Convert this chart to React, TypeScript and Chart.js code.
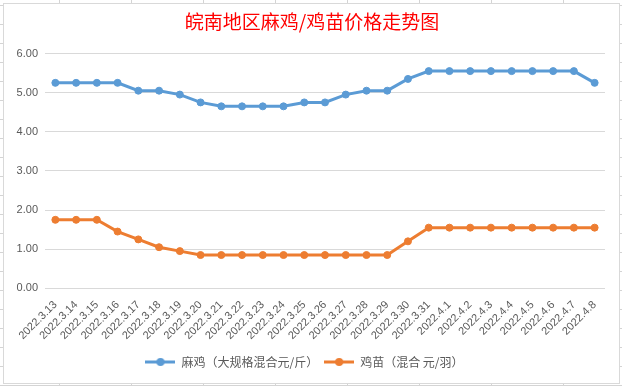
import React, { useEffect, useRef } from "react";
import { Chart, registerables } from "chart.js";

Chart.register(...registerables);

const categories = [
  "2022.3.13", "2022.3.14", "2022.3.15", "2022.3.16", "2022.3.17", "2022.3.18",
  "2022.3.19", "2022.3.20", "2022.3.21", "2022.3.22", "2022.3.23", "2022.3.24",
  "2022.3.25", "2022.3.26", "2022.3.27", "2022.3.28", "2022.3.29", "2022.3.30",
  "2022.3.31", "2022.4.1", "2022.4.2", "2022.4.3", "2022.4.4", "2022.4.5",
  "2022.4.6", "2022.4.7", "2022.4.8",
];

const chickenPrices = [
  5.25, 5.25, 5.25, 5.25, 5.05, 5.05, 4.95, 4.75, 4.65, 4.65, 4.65, 4.65,
  4.75, 4.75, 4.95, 5.05, 5.05, 5.35, 5.55, 5.55, 5.55, 5.55, 5.55, 5.55,
  5.55, 5.55, 5.25,
];

const chickPrices = [
  1.75, 1.75, 1.75, 1.45, 1.25, 1.05, 0.95, 0.85, 0.85, 0.85, 0.85, 0.85,
  0.85, 0.85, 0.85, 0.85, 0.85, 1.2, 1.55, 1.55, 1.55, 1.55, 1.55, 1.55,
  1.55, 1.55, 1.55,
];

const seriesNames = ["麻鸡（大规格混合元/斤）", "鸡苗（混合 元/羽）"];
const seriesColors = ["#5B9BD5", "#ED7D31"];
const titleText = "皖南地区麻鸡/鸡苗价格走势图";
const yTicks = [0, 1, 2, 3, 4, 5, 6];

function makeLegendMarker(color: string): HTMLCanvasElement {
  const c = document.createElement("canvas");
  c.width = 30;
  c.height = 10;
  const ctx = c.getContext("2d")!;
  ctx.strokeStyle = color;
  ctx.lineWidth = 3;
  ctx.beginPath();
  ctx.moveTo(0, 5);
  ctx.lineTo(30, 5);
  ctx.stroke();
  ctx.fillStyle = color;
  ctx.beginPath();
  ctx.arc(15, 5, 4, 0, Math.PI * 2);
  ctx.fill();
  return c;
}

const titlePlugin = {
  id: "excelTitle",
  afterDraw(chart: any) {
    const ctx = chart.ctx;
    ctx.save();
    ctx.fillStyle = "#FF0000";
    ctx.font = "normal 19px 'Noto Sans CJK SC', sans-serif";
    ctx.textAlign = "center";
    ctx.textBaseline = "middle";
    ctx.fillText(titleText, 312, 22);
    ctx.restore();
  },
};

export default function App() {
  const ref = useRef<HTMLCanvasElement | null>(null);

  useEffect(() => {
    document.body.style.margin = "0";
    if (!ref.current) return;
    const markers = seriesColors.map(makeLegendMarker);
    const tickFont = { family: "'Liberation Sans', Arial, sans-serif", size: 11 };
    const chart = new Chart(ref.current, {
      type: "line",
      data: {
        labels: categories,
        datasets: [
          {
            label: seriesNames[0],
            data: chickenPrices,
            borderColor: seriesColors[0],
            backgroundColor: seriesColors[0],
            borderWidth: 3,
            pointRadius: 3.5,
            pointBorderWidth: 1,
            pointBackgroundColor: seriesColors[0],
            tension: 0,
          },
          {
            label: seriesNames[1],
            data: chickPrices,
            borderColor: seriesColors[1],
            backgroundColor: seriesColors[1],
            borderWidth: 3,
            pointRadius: 3.5,
            pointBorderWidth: 1,
            pointBackgroundColor: seriesColors[1],
            tension: 0,
          },
        ],
      },
      plugins: [titlePlugin],
      options: {
        responsive: false,
        animation: false,
        devicePixelRatio: 1,
        layout: { padding: { left: 4, right: 17, top: 53.5, bottom: 8 } },
        plugins: {
          tooltip: { enabled: false },
          title: { display: false },
          legend: {
            position: "bottom",
            labels: {
              usePointStyle: true,
              pointStyleWidth: 30,
              padding: 6,
              color: "#595959",
              font: { family: "'Noto Sans CJK SC', sans-serif", size: 12 },
              generateLabels: (ch: any) => {
                const items = Chart.defaults.plugins.legend.labels.generateLabels(ch);
                return items.map((it: any, i: number) => ({
                  ...it,
                  pointStyle: markers[i],
                }));
              },
            },
          },
        },
        scales: {
          x: {
            offset: true,
            grid: { display: false },
            border: { display: false },
            ticks: {
              color: "#595959",
              font: tickFont,
              autoSkip: false,
              maxRotation: 45,
              minRotation: 45,
              padding: 2,
            },
            afterFit: (s: any) => {
              s.height = 61.7;
            },
          },
          y: {
            min: 0,
            max: 6,
            afterBuildTicks: (s: any) => {
              s.ticks = yTicks.map((v) => ({ value: v }));
            },
            grid: { color: "#D9D9D9", drawTicks: false, lineWidth: 1 },
            border: { display: false },
            ticks: {
              color: "#595959",
              font: tickFont,
              padding: 7,
              callback: (v: any) => Number(v).toFixed(2),
            },
            afterFit: (s: any) => {
              s.width = 41;
            },
          },
        },
      },
    });
    return () => chart.destroy();
  }, []);

  return (
    <div
      style={{
        position: "relative",
        width: 622,
        height: 386,
        overflow: "hidden",
        backgroundColor: "#ffffff",
        backgroundImage:
          "linear-gradient(to right, #d4d4d4 1px, transparent 1px), linear-gradient(to bottom, #d4d4d4 1px, transparent 1px)",
        backgroundSize: "72px 19px",
        backgroundPosition: "59px 24px",
      }}
    >
      <div
        style={{
          position: "absolute",
          left: 3,
          top: 3,
          width: 617,
          height: 381,
          boxSizing: "border-box",
          border: "1px solid #D9D9D9",
          background: "#ffffff",
        }}
      />
      <canvas
        ref={ref}
        width={622}
        height={386}
        style={{ position: "absolute", left: 0, top: 0, width: 622, height: 386 }}
      />
    </div>
  );
}
